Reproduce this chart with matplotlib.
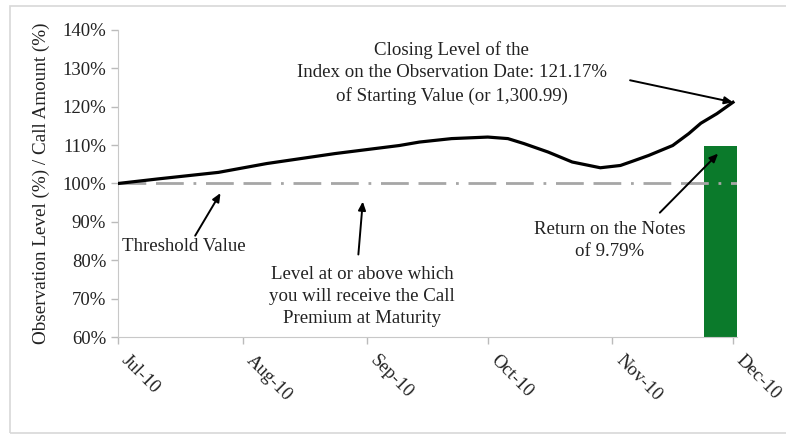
import matplotlib
matplotlib.use("Agg")
import matplotlib.pyplot as plt
from matplotlib.patches import Rectangle
import pandas as pd

plt.rcParams['font.family'] = ['Liberation Serif', 'DejaVu Serif']

# index level as % of starting value
obs_dates = ["2010-07-01", "2010-07-11", "2010-07-26", "2010-08-07", "2010-08-24",
             "2010-09-09", "2010-09-14", "2010-09-22", "2010-10-01", "2010-10-06",
             "2010-10-10", "2010-10-16", "2010-10-22", "2010-10-29", "2010-11-03",
             "2010-11-06", "2010-11-10", "2010-11-16", "2010-11-20", "2010-11-23",
             "2010-11-27", "2010-12-01"]
obs_level = [100.0, 101.2, 102.9, 105.2, 107.8,
             109.9, 110.8, 111.7, 112.1, 111.7,
             110.4, 108.2, 105.6, 104.1, 104.7,
             105.8, 107.3, 109.9, 113.0, 115.7,
             118.2, 121.17]

threshold = 100.0
call_date = "2010-11-28"
call_amount = 109.79
month_ticks = ["2010-07-01", "2010-08-01", "2010-09-01", "2010-10-01", "2010-11-01", "2010-12-01"]
month_labels = ["Jul-10", "Aug-10", "Sep-10", "Oct-10", "Nov-10", "Dec-10"]

d = pd.to_datetime(obs_dates)
x0, x1 = pd.Timestamp("2010-07-01"), pd.Timestamp("2010-12-02")

fig = plt.figure(figsize=(7.86, 4.36), dpi=100)
# light frame round the picture
fig.patches.append(Rectangle((10 / 786, 3 / 436), 1.0, 1 - 9 / 436, transform=fig.transFigure,
                             fill=False, edgecolor="#d8d8d8", linewidth=1.2))
ax = fig.add_axes([118 / 786, 1 - 337 / 436, (737 - 118) / 786, (337 - 30) / 436])

ax.bar(pd.Timestamp(call_date), call_amount, width=8.5, color="#0b7a2b", zorder=1)
ax.plot([x0, x1], [threshold, threshold], color="#a6a6a6", lw=2.0,
        linestyle=(0, (10, 3.5, 10, 3.5, 1, 3.5)), zorder=2)
ax.plot(d, obs_level, color="black", lw=2.3, zorder=3, solid_joinstyle="round")

ax.set_xlim(x0, x1)
ax.set_ylim(60, 140)
ax.set_yticks(range(60, 141, 10))
ax.set_yticklabels([f"{v}%" for v in range(60, 141, 10)], fontsize=13.5)
ax.set_xticks(pd.to_datetime(month_ticks))
ax.set_xticklabels(month_labels, rotation=-45, ha="left", va="top", fontsize=13.5)
ax.tick_params(axis="both", colors="#bbbbbb", length=5, width=1)
ax.tick_params(axis="x", pad=6)
for lab in ax.get_xticklabels() + ax.get_yticklabels():
    lab.set_color("#222222")
for s in ["top", "right"]:
    ax.spines[s].set_visible(False)
for s in ["left", "bottom"]:
    ax.spines[s].set_color("#c8c8c8")
ax.set_ylabel("Observation Level (%) / Call Amount (%)", fontsize=13.8, color="#222222", labelpad=9)

def day(n):
    return x0 + pd.Timedelta(days=n)

arrow = dict(arrowstyle="-|>,head_length=0.5,head_width=0.22", color="black", lw=1.4,
             shrinkA=0, shrinkB=0)
txt = dict(fontsize=13.6, color="#222222", ha="center", va="center", linespacing=1.4)

ax.text(day(83), 128.8, "Closing Level of the\nIndex on the Observation Date: 121.17%\n"
        "of Starting Value (or 1,300.99)", **txt)
ax.annotate("", xy=(day(153), 121.17), xytext=(day(127.4), 126.9), arrowprops=arrow)

ax.text(day(16.3), 83.5, "Threshold Value", **txt)
ax.annotate("", xy=(day(25.5), 97.5), xytext=(day(19.2), 86.4), arrowprops=arrow)

ax.text(day(60.7), 70.5, "Level at or above which\nyou will receive the Call\nPremium at Maturity", **txt)
ax.annotate("", xy=(day(60.9), 95.3), xytext=(day(59.8), 81.5), arrowprops=arrow)

ax.text(day(122.4), 85.1, "Return on the Notes\nof 9.79%", **txt)
ax.annotate("", xy=(day(149.3), 107.8), xytext=(day(134.8), 92.4), arrowprops=arrow)

fig.savefig("out.png", dpi=100)
